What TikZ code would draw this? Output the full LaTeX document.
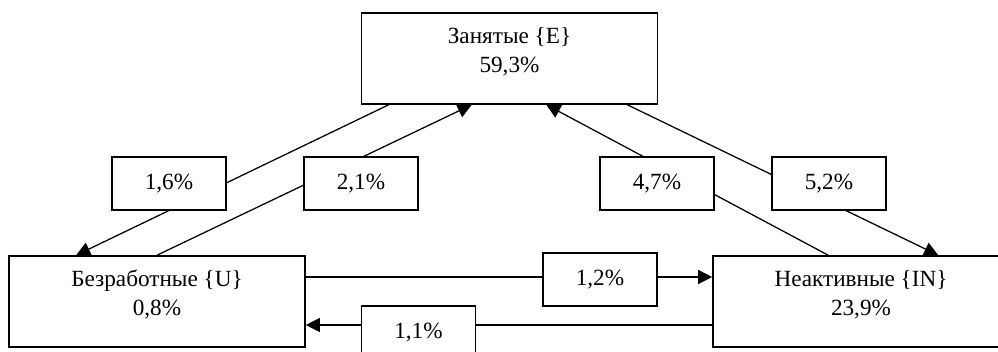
\documentclass[tikz,border=0pt]{standalone}
\usepackage{fontspec}
\setmainfont{Liberation Serif}
\usetikzlibrary{arrows.meta,calc}

\begin{document}
\begin{tikzpicture}[
  x=0.025cm, y=-0.025cm,
  font=\fontsize{16.5}{20}\selectfont, >={Triangle[length=3.5mm, width=3.5mm]},
  state/.style={draw, line width=1.1pt, fill=white, minimum width=7.4cm, inner sep=0pt, text height=1.1375cm, text depth=1.1375cm},
  rate/.style={draw, line width=1.1pt, fill=white, minimum width=2.85cm, minimum height=1.325cm, inner sep=0pt},
  flow/.style={->, line width=0.9pt},
]
\useasboundingbox (0,0) rectangle (998,352);

% States — employed, unemployed, inactive
\node[state] (E) at (509.5,58.5) {\begin{tabular}{c}Занятые \{E\}\\59,3\%\end{tabular}};
\node[state] (U) at (157,301.5) {\begin{tabular}{c}Безработные \{U\}\\0,8\%\end{tabular}};
\node[state] (IN) at (861,301.5) {\begin{tabular}{c}Неактивные \{IN\}\\23,9\%\end{tabular}};

% Flows between states
\draw[flow] ($(E.south west)+(28,0)$) -- ($(U.north west)+(68,0)$);
\draw[flow] (U.north) -- ($(E.south west)+(111,0)$);
\draw[flow] ($(IN.north west)+(116,0)$) -- ($(E.south east)+(-112,0)$);
\draw[flow] ($(E.south east)+(-31,0)$) -- ($(IN.north west)+(226,0)$);
\draw[flow] ($(U.east)+(0,-24.5)$) -- ($(IN.west)+(0,-24.5)$);
\draw[flow] ($(IN.west)+(0,23.5)$) -- ($(U.east)+(0,23.5)$);

% Transition rates (on top of the flows)
\node[rate] (r16) at (169,183.5) {1,6\%};
\node[rate] (r21) at (361,183.5) {2,1\%};
\node[rate] (r47) at (657,183.5) {4,7\%};
\node[rate] (r52) at (829,183.5) {5,2\%};
\node[rate] (r12) at (600,279.5) {1,2\%};
\node[rate] (r11) at (418.5,332.5) {1,1\%};
\end{tikzpicture}
\end{document}
